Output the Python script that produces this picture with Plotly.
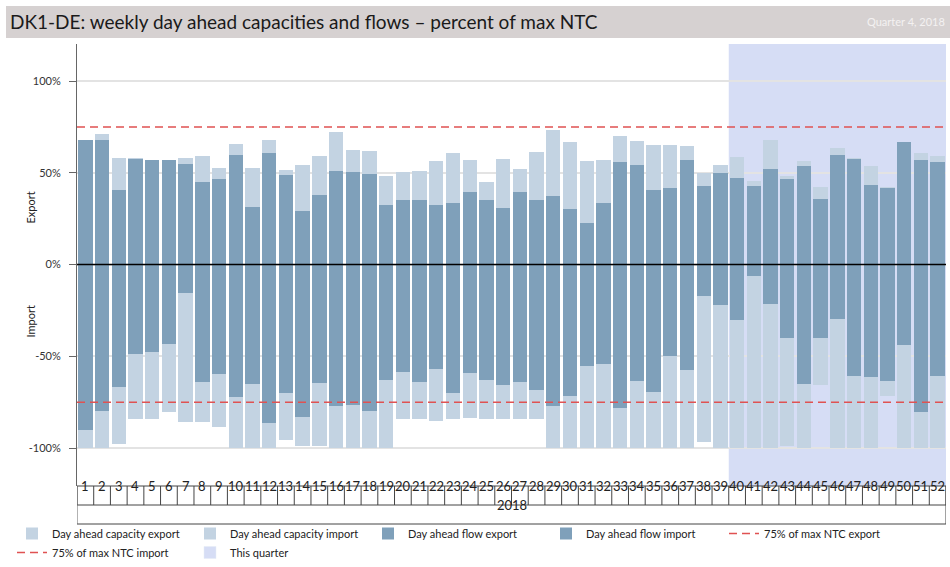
import plotly.graph_objects as go

weeks = list(range(1, 53))
week_labels = [str(w) for w in weeks]
year_label = "2018"

cap_export = [68, 71, 58.3, 58, 57, 57, 58.3, 59.2, 52.8, 65.9, 52.8, 68, 51.7, 54.1, 59.2,
              72.3, 62.3, 61.9, 48.3, 50.3, 51.2, 56.3, 60.7, 56.8, 45.2, 57.6, 51.9, 61.2,
              73.2, 66.7, 56.3, 56.8, 70.3, 67.2, 65, 65, 64.7, 49.9, 54.3, 58.8, 45.5, 67.8,
              48.3, 56.3, 42.1, 63.6, 58.3, 53.9, 42.1, 66.7, 61, 59]
flow_export = [68, 68, 40.4, 57.7, 56.8, 56.8, 54.8, 44.8, 46.8, 59.6, 31.3, 60.7, 48.8, 29.3, 38.1,
               50.8, 50.4, 49.2, 32.6, 35.3, 35, 32.6, 33.7, 39.3, 35, 30.6, 39.3, 35.3,
               37.3, 30.1, 22.6, 33.3, 55.9, 54.1, 40.8, 41.7, 57.2, 43, 50.1, 47.4, 42.6, 51.9,
               46.7, 53.6, 35.5, 59.9, 57.6, 43.2, 41.7, 66.7, 57.2, 55.9]
cap_import = [-100, -100, -97.7, -84.3, -84.3, -80.3, -85.9, -85.9, -88.6, -100, -100, -100, -95.5,
              -98.8, -98.8, -100, -100, -100, -100, -84.3, -84.3, -85.5, -84.3, -83.6, -84.3,
              -84.3, -84.3, -84.3, -100, -100, -100, -100, -100, -100, -100, -100, -100, -96.6,
              -100, -100, -100, -100, -99.1, -100, -65.5, -100, -100, -100, -71.4, -100, -100, -100]
flow_import = [-90.4, -79.8, -66.9, -48.8, -47.9, -43.2, -15.4, -64.2, -59.9, -72, -65.3, -86.6,
               -69.8, -83.2, -64.6, -76.9, -76.3, -79.8, -62.9, -58.8, -63.8, -57, -69.8, -59.1,
               -62.9, -65.5, -63.8, -68.2, -76.9, -71.4, -55.3, -54.4, -78, -63.5, -69.5, -50.1,
               -57.3, -17.4, -22.2, -30.2, -6, -21.3, -40.2, -64.9, -40.2, -29.8, -61, -61.5,
               -63.5, -43.6, -80.1, -60.8]
ntc75_export = 75
ntc75_import = -75
quarter_weeks = [40, 52]
y_ticks = [100, 50, 0, -50, -100]
y_tick_text = ["100%", "50%", "0%", "-50%", "-100%"]

CAP = "#c3d3e2"
FLOW = "#7fa0ba"
QUARTER = "#d6ddf5"
RED = "#e05252"
FONT = "Lato"

W = 950
H = 567
TOP = 44
PH = H - TOP  # paper height in px (bottom margin 0)


def py(ypx):
    """paper y from pixel y"""
    return (H - ypx) / PH


def px(xpx):
    """paper x from pixel x (no side margins)"""
    return xpx / W


fig = go.Figure()
bw = 0.86
fig.add_trace(go.Bar(x=weeks, y=cap_export, name="Day ahead capacity export", marker_color=CAP,
                     width=bw, marker_line_width=0))
fig.add_trace(go.Bar(x=weeks, y=cap_import, name="Day ahead capacity import", marker_color=CAP,
                     width=bw, marker_line_width=0))
fig.add_trace(go.Bar(x=weeks, y=flow_export, name="Day ahead flow export", marker_color=FLOW,
                     width=bw, marker_line_width=0))
fig.add_trace(go.Bar(x=weeks, y=flow_import, name="Day ahead flow import", marker_color=FLOW,
                     width=bw, marker_line_width=0))
x_ends = [weeks[0] - 0.5, weeks[-1] + 0.4]
fig.add_trace(go.Scatter(x=x_ends, y=[ntc75_export] * 2, mode="lines", name="75% of max NTC export",
                         line=dict(color=RED, width=1.5, dash="8px,5px")))
fig.add_trace(go.Scatter(x=x_ends, y=[ntc75_import] * 2, mode="lines", name="75% of max NTC import",
                         line=dict(color=RED, width=1.5, dash="8px,5px")))
fig.add_trace(go.Bar(x=[None], y=[None], name="This quarter", marker_color=QUARTER))

dom_bottom = py(486)
mid_row = py(505)
base = py(524)

# zero line
fig.add_shape(type="line", xref="x", yref="y", x0=0.5, x1=52.5, y0=0, y1=0,
              line=dict(color="black", width=1.5), layer="above")

# quarter shading
fig.add_shape(type="rect", xref="x", yref="paper", x0=quarter_weeks[0] - 0.5, x1=quarter_weeks[1] + 0.5,
              y0=dom_bottom, y1=1, fillcolor=QUARTER, line_width=0, layer="below")

# x label boxes
line_c = "#444444"
for yy in (dom_bottom, mid_row, base):
    fig.add_shape(type="line", xref="x", yref="paper", x0=0.5, x1=52.5, y0=yy, y1=yy,
                  line=dict(color=line_c, width=1))
for w in [weeks[0] - 1] + weeks:
    fig.add_shape(type="line", xref="x", yref="paper", x0=w + 0.5, x1=w + 0.5, y0=mid_row, y1=dom_bottom,
                  line=dict(color=line_c, width=1))
fig.add_shape(type="line", xref="x", yref="paper", x0=0.5, x1=0.5, y0=base, y1=dom_bottom,
              line=dict(color="#666666", width=1))
fig.add_shape(type="line", xref="x", yref="paper", x0=52.5, x1=52.5, y0=base, y1=dom_bottom,
              line=dict(color=line_c, width=1))
for w, lab in zip(weeks, week_labels):
    fig.add_annotation(x=w, y=(dom_bottom + mid_row) / 2, xref="x", yref="paper", text=lab,
                       showarrow=False, font=dict(size=13, color="#222"))
fig.add_annotation(x=26.5, y=(mid_row + base) / 2, xref="x", yref="paper", text=year_label,
                   showarrow=False, font=dict(size=13, color="#222"))

# title band
fig.add_shape(type="rect", xref="paper", yref="paper", x0=px(6), x1=1, y0=py(38), y1=py(6),
              fillcolor="#d6d1d1", line_width=0)
fig.add_annotation(xref="paper", yref="paper", x=px(8), y=py(22), xanchor="left", yanchor="middle",
                   text="DK1-DE: weekly day ahead capacities and flows – percent of max NTC",
                   showarrow=False, font=dict(size=19, color="#1a1a1a", family=FONT))
fig.add_annotation(xref="paper", yref="paper", x=px(947), y=py(22), xanchor="right", yanchor="middle",
                   text="Quarter 4, 2018", showarrow=False, font=dict(size=11, color="#f4f1f1", family=FONT))

# axis titles
fig.add_annotation(xref="paper", yref="paper", x=px(22), y=py(190), text="Export",
                   textangle=-90, showarrow=False, font=dict(size=11, color="#222"))
fig.add_annotation(xref="paper", yref="paper", x=px(22), y=py(322), text="Import",
                   textangle=-90, showarrow=False, font=dict(size=11, color="#222"))

fig.update_layout(
    width=W, height=H,
    margin=dict(l=0, r=0, t=TOP, b=0),
    paper_bgcolor="white", plot_bgcolor="rgba(0,0,0,0)",
    barmode="overlay", bargap=0,
    font=dict(family=FONT, size=11, color="#333"),
    showlegend=True,
    legend=dict(orientation="h", x=px(12), y=0, xanchor="left", yanchor="bottom",
                entrywidth=133, entrywidthmode="pixels", font=dict(size=11, color="#222"),
                traceorder="normal", itemwidth=30, bgcolor="rgba(0,0,0,0)", tracegroupgap=0),
    xaxis=dict(domain=[px(77), px(946)], range=[0.5, 52.5], showticklabels=False, showgrid=False,
               zeroline=False, showline=False, ticks=""),
    yaxis=dict(domain=[dom_bottom, 1], range=[-120.7, 120.2], tickvals=y_ticks, ticktext=y_tick_text,
               showgrid=True, gridcolor="#e3e3e3", gridwidth=1.5, zeroline=False,
               showline=True, linecolor="#666666", linewidth=1, ticks="outside", ticklen=7,
               tickcolor="#666666", tickfont=dict(size=11, color="#333"), ticklabelstandoff=6),
)

fig.write_html("out.html", config={"displayModeBar": False},
               post_script="document.body.style.margin='0';document.body.style.overflow='hidden';")
